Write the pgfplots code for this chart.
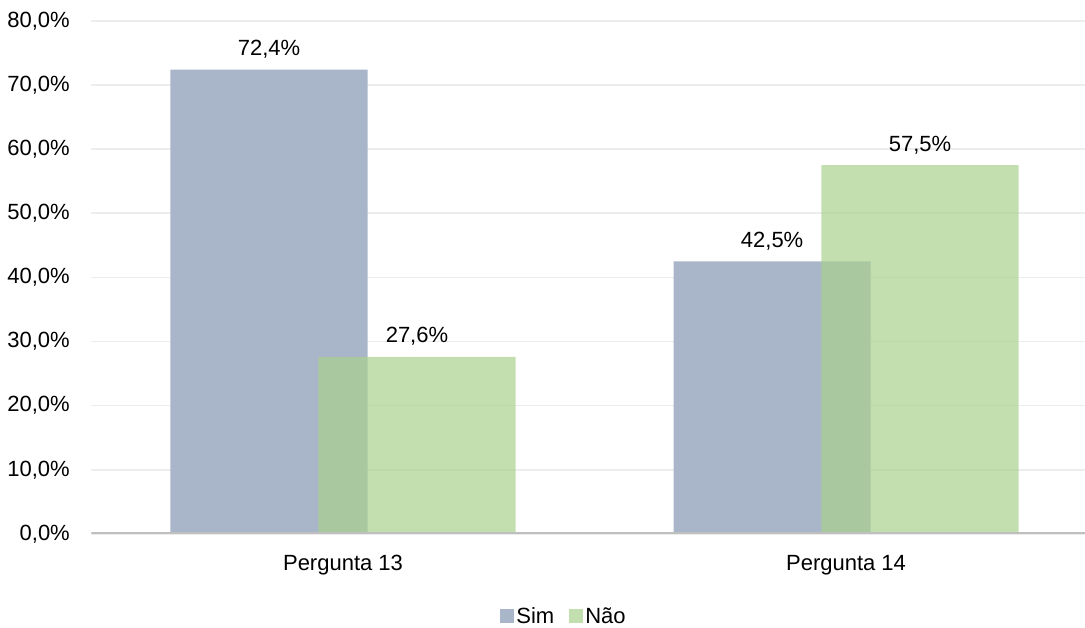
\documentclass[border=0pt]{standalone}
\usepackage{fontspec}
\setmainfont{Liberation Sans}
\usepackage{pgfplots}
\pgfplotsset{compat=1.18}
\definecolor{simfill}{HTML}{A9B5C8}
\definecolor{naofill}{HTML}{A9D18E}
\definecolor{gridgray}{HTML}{EDEDED}
\definecolor{basegray}{HTML}{BFBFBF}
\newcommand{\lblfont}{\fontsize{22}{26}\selectfont}
\begin{document}
\begin{tikzpicture}
\useasboundingbox (-91.5pt,-94pt) rectangle (993.5pt,534pt);
\begin{axis}[
  at={(0,0)}, anchor=south west,
  scale only axis, width=993.5pt, height=513.2pt,
  xmin=-0.5, xmax=1.475, ymin=0, ymax=80,
  axis line style={draw=none},
  tick style={draw=none},
  /pgf/number format/assume math mode=true,
  xtick={0,1}, xticklabels={Pergunta 13, Pergunta 14},
  ytick={0,10,...,80},
  ymajorgrids, grid style={gridgray, line width=1.5pt},
  yticklabel={\pgfmathprintnumber[fixed,fixed zerofill,precision=1,use comma]{\tick}\%},
  yticklabel style={anchor=east, inner sep=0pt, xshift=-21.5pt, font=\lblfont, text=black},
  xticklabel style={anchor=north, inner sep=0pt, yshift=-21pt, font=\lblfont, text=black},
  nodes near coords={\pgfmathprintnumber[fixed,fixed zerofill,precision=1,use comma]{\pgfplotspointmeta}\%},
  every node near coord/.append style={font=\lblfont, text=black, inner sep=0pt, yshift=11pt, fill opacity=1, text opacity=1},
  legend style={at={(0.4756,-0.1598)}, anchor=center, draw=none, fill=none,
    legend columns=2, font=\lblfont, column sep=0pt,
    /tikz/every even column/.append style={column sep=13pt},
    nodes={inner sep=2pt}},
  legend image code/.code={\fill[#1] (0pt,-7pt) rectangle (14pt,7pt);},
]
% bars sit at their own x positions, offset from the category centres 0 and 1
\addplot[ybar, bar width=0.392, bar shift=0pt, draw=none, fill=simfill]
  coordinates {(-0.147,72.4) (0.853,42.5)};
\addlegendentry{Sim}
\addplot[ybar, bar width=0.392, bar shift=0pt, draw=none, fill=naofill, fill opacity=0.7]
  coordinates {(0.147,27.6) (1.147,57.5)};
\addlegendentry{Não}
\draw[basegray, line width=4pt] (rel axis cs:0,0) -- (rel axis cs:1,0);
\end{axis}
\end{tikzpicture}
\end{document}
